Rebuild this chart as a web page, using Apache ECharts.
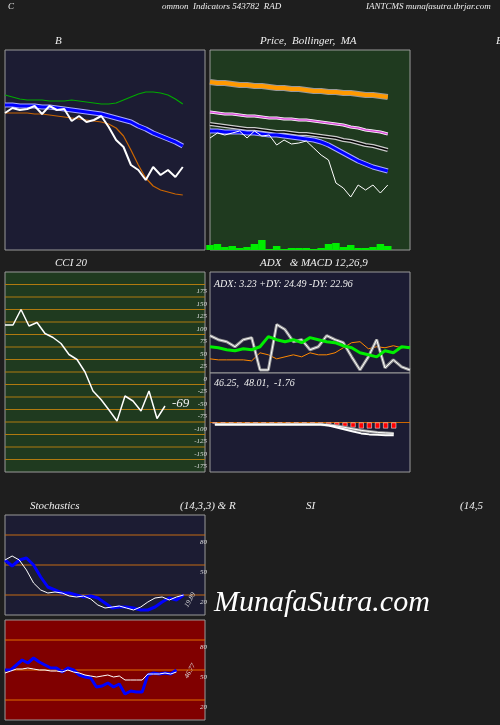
<!DOCTYPE html>
<html><head><meta charset="utf-8">
<script src="https://cdn.jsdelivr.net/npm/echarts@6/dist/echarts.min.js"></script>
<style>html,body{margin:0;background:#1e1e1e}#c{width:500px;height:725px}</style>
</head><body><div id="c"></div>
<script>
// Panel 1 (Bollinger)
const bbPrice=[137,142,140,141,144,136,144,140,141,129,134,128,130,134,123,110,103,85,80,70,83,75,80,73,83];
const bbUpper=[145,145,144,144,144,143,143,142,141,140,139,138,137,136,134,132,130,128,124,121,117,114,111,108,104];
const bbLower=[137,137,137,137,136,136,135,134,133,132,131,130,129,128,126,122,114,100,85,72,64,60,58,56,55];
const bbGreen=[155,153,151,150,150,150,149,149,149,150,149,148,147,146,146,147,150,153,156,158,158,157,155,151,146];
// Panel 2 (Price, MA, Volume)
const pPrice=[112,117,115,117,119,112,119,114,115,105,110,106,107,109,102,95,90,67,62,53,65,60,65,57,65];
const pBlue=[119,119,118,118,118,117,117,116,115,115,114,113,112,111,110,108,105,101,97,93,89,86,83,81,79];
const pOrange=[168,167,167,166,165,165,164,164,163,162,162,161,161,160,159,159,158,158,157,157,156,155,155,154,153];
const pPink=[138,137,136,136,135,134,134,133,132,132,131,131,130,130,129,128,127,126,125,123,122,120,119,118,116];
const pBlack=[126,125,124,123,122,121,121,120,119,118,118,117,116,116,115,114,113,112,110,109,107,105,104,102,100];
const volume=[25,30,15,20,10,15,30,50,5,20,5,10,10,10,5,10,30,35,15,25,10,10,15,30,20];
// CCI
const cci=[94,94,125,92,99,77,69,57,35,25,0,-38,-55,-76,-98,-48,-58,-78,-38,-93,-68];
const cciTicks=[175,150,125,100,75,50,25,0,-25,-50,-75,-100,-125,-150,-175];
// ADX
const adx=[26,25,23,22,24,23,26,36,33,31,33,30,35,33,31,30,27,25,20,18,16,22,20,26,25];
const pdi=[14,13,13,13,13,12,20,18,14,16,18,16,20,18,18,20,25,30,31,24,26,25,27,25,26];
const mdi=[37,33,31,26,33,35,3,3,48,43,31,33,23,26,37,33,30,16,3,16,33,5,13,6,3];
// MACD
const macd=[-2,-2,-2,-2,-2,-2,-2,-2,-2,-2,-2,-2,-2,-2,-3,-5,-7,-9,-11,-12,-12.5,-13,-13];
const signal=[-2,-2,-2,-2,-2,-2,-2,-2,-2,-2,-2,-2,-2,-2,-2.5,-3.5,-5,-6.5,-8,-9,-10,-10.5,-11];
const hist=[-1,-1,-1,-1,-1,-1,-1,-1,-1,-1,-1,-1,-1,-1.5,-2,-3,-4,-5,-6,-6,-6,-6,-6];
// Stochastics
const stochK=[55,49,55,57,50,38,28,25,22,22,20,18,19,17,12,7,8,8,7,5,5,8,13,17,15,20];
const stochD=[55,59,55,45,32,25,22,23,22,19,18,19,16,10,7,8,9,7,5,8,13,17,18,15,18,20];
// RSI
const rsiA=[50,50,55,60,57,62,58,55,52,52,48,52,50,45,43,42,33,34,37,33,36,26,29,28,28,45,47,46,47,46,50];
const rsiB=[47,49,51,51,52,51,50,50,49,49,48,50,48,47,45,44,43,44,45,43,44,40,40,40,40,46,46,46,47,46,48];
const levelTicks=[80,50,20];

const P=a=>a.map((v,i)=>[i,v]);
const font='Liberation Serif';
const grids=[
 {left:5,top:50,width:200,height:200,bg:'#1c1c33'},
 {left:210,top:50,width:200,height:200,bg:'#1f3a1f'},
 {left:5,top:272,width:200,height:200,bg:'#1f3a1f'},
 {left:210,top:272,width:200,height:101,bg:'#1c1c33'},
 {left:210,top:373,width:200,height:99,bg:'#1c1c33'},
 {left:5,top:515,width:200,height:100,bg:'#1c1c33'},
 {left:5,top:620,width:200,height:100,bg:'#800000'}
];
const xr=[[0,27],[0,27],[0,25],[0,24],[-0.6,24],[0,28],[0,35]];
const yr=[[0,200],[0,200],[-200,200],[0,100],[-50,50],[0,100],[0,100]];
const grid=grids.map(g=>({left:g.left,top:g.top,width:g.width,height:g.height,show:true,backgroundColor:g.bg,borderColor:'#999',borderWidth:1,containLabel:false,outerBoundsMode:'none'}));
const xAxis=xr.map((r,i)=>({type:'value',gridIndex:i,min:r[0],max:r[1],show:false}));
const yAxis=yr.map((r,i)=>({type:'value',gridIndex:i,min:r[0],max:r[1],axisLine:{show:false},axisTick:{show:false},axisLabel:{show:false},splitLine:{show:false}}));
yAxis.push({type:'value',gridIndex:1,min:0,max:1000,show:false});

function L(gi,data,color,width,z,extra){return Object.assign({type:'line',xAxisIndex:gi,yAxisIndex:gi,data:P(data),symbol:'none',lineStyle:{color,width},z:z||2,silent:true},extra||{});}
function levels(gi,vals,color,labelMax){
 return vals.map(v=>({type:'line',xAxisIndex:gi,yAxisIndex:gi,data:[[xr[gi][0],v],[xr[gi][1],v]],symbol:'none',silent:true,z:1,
  lineStyle:{color,width:1.2},
  endLabel:{show:Math.abs(v)<=labelMax,formatter:()=>String(v),color:'#ddd',fontFamily:font,fontStyle:'italic',fontSize:7,align:'right',offset:[-6,7]}}));
}
const series=[
 L(0,bbGreen,'#00aa00',1.2),
 L(0,bbLower,'#cc6600',1.2),
 L(0,bbUpper,'#aaaaff',5),L(0,bbUpper,'#0000ff',3,3),
 L(0,bbPrice,'#ffffff',2,4),
 L(1,pOrange,'#999',6),L(1,pOrange,'#ff9900',4,3),
 L(1,pPink,'#fff',3),L(1,pPink,'#dd55dd',1.5,3),
 L(1,pBlack,'#ccc',4),L(1,pBlack,'#000',1.5,3),
 L(1,pBlue,'#aaaaff',5),L(1,pBlue,'#0000ff',3,3),
 L(1,pPrice,'#ffffff',1,4),
 {type:'bar',xAxisIndex:1,yAxisIndex:7,data:P(volume),barWidth:7.5,itemStyle:{color:'#00ee00'},silent:true},
 ...levels(2,cciTicks,'#b07a10',175),
 L(2,cci,'#ffffff',1.5,4),
 L(3,pdi,'#ff8800',1,2),
 L(3,mdi,'#999',3),L(3,mdi,'#fff',1,3),
 L(3,adx,'#00ee00',3,4),
 ...levels(4,[0],'#cc6600',-1),
 {type:'bar',xAxisIndex:4,yAxisIndex:4,data:P(hist),barWidth:5,itemStyle:{color:'#ff0000',borderColor:'#fff',borderWidth:0.5},silent:true},
 L(4,signal,'#999',3,3),L(4,signal,'#fff',1,4),
 L(4,macd,'#fff',2,5),
 ...levels(5,levelTicks,'#c46a14',100),
 L(5,stochD,'#fff',1,4),
 L(5,stochK,'#0000ff',3,3),
 ...levels(6,levelTicks,'#e07000',100),
 L(6,rsiB,'#fff',1,4),
 L(6,rsiA,'#0000ff',3,3)
];
const T=(x,y,text,size,extra)=>({type:'text',left:x,top:y,style:Object.assign({text,fill:'#eee',font:`italic ${size||10}px "${font}"`},extra||{}),z:100});
const graphic=[
 T(8,2,'C',9),T(162,2,'ommon  Indicators 543782  RAD',9),T(366,2,'IANTCMS munafasutra.tbrjar.com',9),
 T(55,36,'B',11),T(260,36,'Price,  Bollinger,  MA',11),T(496,36,'B',11),
 T(55,258,'CCI 20',11),T(260,258,'ADX   & MACD 12,26,9',11),
 T(30,501,'Stochastics',11),T(180,501,'(14,3,3) & R',11),T(306,501,'SI',11),T(460,501,'(14,5',11),
 T(214,279,'ADX: 3.23 +DY: 24.49 -DY: 22.96',10),T(214,378,'46.25,  48.01,  -1.76',10),
 T(172,397,'-69',13),
 {type:'text',x:183,y:605,rotation:Math.PI/3,style:{text:'19.89',fill:'#ddd',font:`italic 7px "${font}"`},z:100},
 {type:'text',x:183,y:676,rotation:Math.PI/3,style:{text:'46.77',fill:'#ddd',font:`italic 7px "${font}"`},z:100},
 T(214,588,'MunafaSutra.com',30,{fill:'#ffffff'})
];
const ch=echarts.init(document.getElementById('c'));
ch.setOption({backgroundColor:'#1e1e1e',animation:false,grid,xAxis,yAxis,series,graphic});
</script></body></html>
